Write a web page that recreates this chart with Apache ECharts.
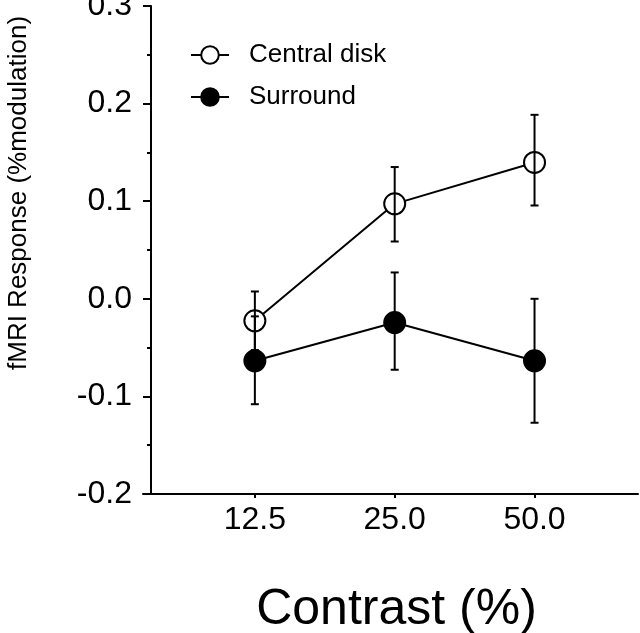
<!DOCTYPE html>
<html>
<head>
<meta charset="utf-8">
<script src="https://cdn.jsdelivr.net/npm/echarts@6/dist/echarts.min.js"></script>
<style>html,body{margin:0;padding:0;background:#fff}#c{width:640px;height:633px}</style>
</head>
<body>
<div id="c"></div>
<script>
const categories = ['12.5', '25.0', '50.0'];
const centralMean = [-0.0225, 0.0973, 0.1397];
const centralLow = [-0.0525, 0.0587, 0.0956];
const centralHigh = [0.0075, 0.1350, 0.1885];
const surroundMean = [-0.0635, -0.0243, -0.0635];
const surroundLow = [-0.1080, -0.0727, -0.1270];
const surroundHigh = [-0.0180, 0.0270, 0.0000];
const yTicks = [-0.2, -0.1, 0.0, 0.1, 0.2, 0.3];

const FONT = 'Liberation Sans, Arial, Helvetica, sans-serif';
const chart = echarts.init(document.getElementById('c'));

function errData(low, high) {
  return categories.map((c, i) => [i, low[i], high[i]]);
}
function errRender(params, api) {
  const x = api.value(0);
  const lo = api.coord([x, api.value(1)]);
  const hi = api.coord([x, api.value(2)]);
  const w = 4;
  const st = { stroke: '#000', lineWidth: 2 };
  return {
    type: 'group',
    children: [
      { type: 'line', shape: { x1: lo[0], y1: lo[1], x2: hi[0], y2: hi[1] }, style: st },
      { type: 'line', shape: { x1: lo[0] - w, y1: lo[1], x2: lo[0] + w, y2: lo[1] }, style: st },
      { type: 'line', shape: { x1: hi[0] - w, y1: hi[1], x2: hi[0] + w, y2: hi[1] }, style: st }
    ]
  };
}

chart.setOption({
  animation: false,
  backgroundColor: '#fff',
  grid: { left: 143, right: 2, top: 6, bottom: 139, containLabel: false, outerBoundsMode: 'none' },
  legend: {
    left: 190, top: 42, orient: 'vertical', padding: 0,
    itemWidth: 38, itemHeight: 22, itemGap: 16,
    textStyle: { fontFamily: FONT, fontSize: 26, color: '#000', padding: [0, 0, 0, 15] },
    data: ['Central disk', 'Surround']
  },
  xAxis: {
    type: 'value', min: -0.8, max: 2.74,
    splitLine: { show: false },
    axisLine: { onZero: false, lineStyle: { color: '#000', width: 2 } },
    axisTick: { show: true, length: 4, lineStyle: { color: '#000', width: 2 }, customValues: [0, 1, 2] },
    axisLabel: {
      customValues: [0, 1, 2],
      formatter: v => categories[Math.round(v)],
      fontFamily: FONT, fontSize: 32, color: '#000', margin: 10
    },
    name: 'Contrast (%)', nameLocation: 'middle', nameGap: 91,
    nameTextStyle: { fontFamily: FONT, fontSize: 50, color: '#000', padding: [0, 0, 0, 12] }
  },
  yAxis: {
    type: 'value', min: -0.2, max: 0.3, interval: 0.1, offset: -8,
    splitLine: { show: false },
    axisLine: { show: true, onZero: false, lineStyle: { color: '#000', width: 2 } },
    axisTick: { show: true, length: 8, lineStyle: { color: '#000', width: 2 } },
    minorTick: { show: true, splitNumber: 2, length: 4, lineStyle: { color: '#000', width: 2 } },
    axisLabel: {
      formatter: v => v.toFixed(1),
      fontFamily: FONT, fontSize: 32, color: '#000', margin: 19
    }
  },
  graphic: [{
    type: 'text', rotation: Math.PI / 2,
    style: { text: 'fMRI Response (%modulation)', font: '26px ' + FONT, fill: '#000' },
    x: 6, y: 370
  }],
  series: [
    {
      name: 'Central disk', type: 'line', z: 2,
      data: categories.map((c, i) => [i, centralMean[i]]),
      symbol: 'circle', symbolSize: 21,
      lineStyle: { color: '#000', width: 2 },
      itemStyle: { color: '#fff', borderColor: '#000', borderWidth: 2 }
    },
    {
      name: 'Surround', type: 'line', z: 2,
      data: categories.map((c, i) => [i, surroundMean[i]]),
      symbol: 'circle', symbolSize: 21,
      lineStyle: { color: '#000', width: 2 },
      itemStyle: { color: '#000', borderColor: '#000', borderWidth: 2 }
    },
    { type: 'custom', z: 3, renderItem: errRender, data: errData(centralLow, centralHigh), silent: true },
    { type: 'custom', z: 3, renderItem: errRender, data: errData(surroundLow, surroundHigh), silent: true }
  ]
});
</script>
</body>
</html>
